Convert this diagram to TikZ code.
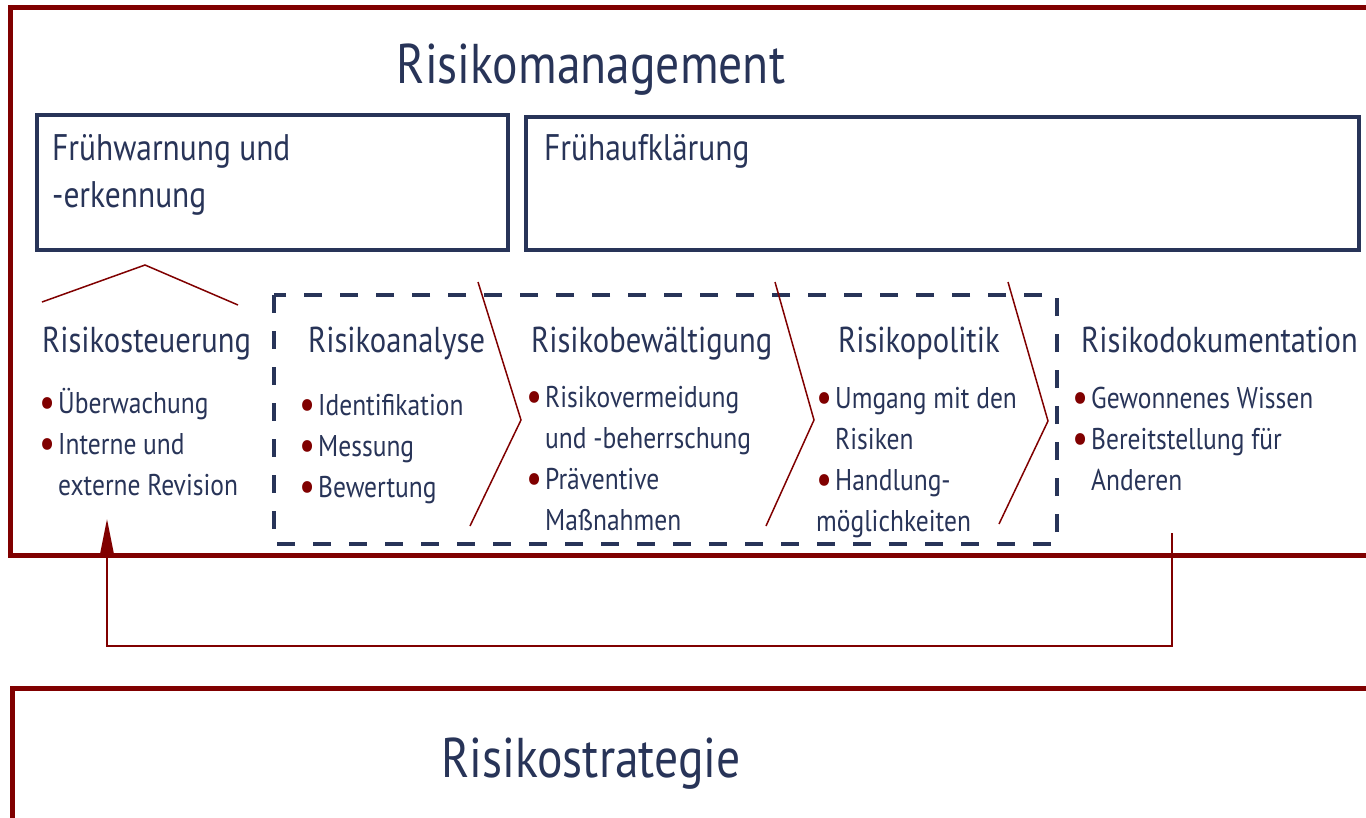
\documentclass[tikz,border=0pt]{standalone}
\usepackage{fontspec}
\setmainfont[FakeStretch=0.85]{PT Sans}
\usepackage{xcolor}
\usetikzlibrary{arrows.meta}
\definecolor{riskred}{RGB}{128,0,0}
\definecolor{risknavy}{RGB}{40,52,88}
\tikzstyle{redframe} = [draw=riskred, line width=5pt]
\tikzstyle{navybox} = [draw=risknavy, line width=3.5pt, rectangle, inner sep=0pt]
\tikzstyle{processbox} = [draw=risknavy, line width=4pt, dash pattern=on 18pt off 18pt]
\tikzstyle{chevron} = [draw=riskred, line width=1.5pt]
\tikzstyle{feedback} = [draw=riskred, line width=2pt]
\tikzstyle{bigtitle} = [text=risknavy, font=\fontsize{56}{60}\selectfont, inner sep=0pt]
\tikzstyle{boxtitle} = [text=risknavy, font=\fontsize{37}{47}\selectfont, inner sep=0pt, align=left]
\tikzstyle{steptitle} = [text=risknavy, font=\fontsize{36}{40}\selectfont, inner sep=0pt]
\tikzstyle{items} = [text=risknavy, font=\fontsize{30}{41}\selectfont, inner sep=0pt, align=left]
\newcommand{\bul}{\makebox[19pt][l]{\textcolor{riskred}{\raisebox{-3pt}{\scalebox{1.4}{\textbullet}}}}}
\newcommand{\ind}{\hspace*{19pt}}

\begin{document}
\begin{tikzpicture}[x=1pt, y=-1pt]
        \useasboundingbox (0,0) rectangle (1366,817);
        \clip (0,0) rectangle (1366,817);
        \fill[white] (0,0) rectangle (1366,817);
        \draw[redframe] (10,7) rectangle (1420,555);
        \draw[redframe] (12,688) rectangle (1420,900);
        \node[bigtitle, anchor=base] (mgmt) at (591,83) {Risikomanagement};
        \node[bigtitle, anchor=base] (strat) at (591,777) {Risikostrategie};

        \node[navybox, anchor=north west, minimum width=471pt, minimum height=135pt] (warnbox) at (35,113) {};
        \node[navybox, anchor=north west, minimum width=833pt, minimum height=133pt] (aufbox) at (524,115) {};
        % base of a two-line node is its last line
        \node[boxtitle, anchor=base west] (warn) at (52,207) {Frühwarnung und\\-erkennung};
        \node[boxtitle, anchor=base west] (auf) at (544,160) {Frühaufklärung};

        \draw[processbox] (274,295) rectangle (1057,544);

        \coordinate (roof-l) at (42,302);
        \coordinate (roof-m) at (145,265);
        \coordinate (roof-r) at (238,305);
        \draw[chevron] (roof-l) -- (roof-m) -- (roof-r);

        \coordinate (c1-top) at (478,282);
        \coordinate (c1-tip) at (521,420);
        \coordinate (c1-bot) at (470,526);
        \coordinate (c2-top) at (775,282);
        \coordinate (c2-tip) at (814,420);
        \coordinate (c2-bot) at (766,526);
        \coordinate (c3-top) at (1008,282);
        \coordinate (c3-tip) at (1048,421);
        \coordinate (c3-bot) at (999,524);
        \draw[chevron] (c1-top) -- (c1-tip) -- (c1-bot);
        \draw[chevron] (c2-top) -- (c2-tip) -- (c2-bot);
        \draw[chevron] (c3-top) -- (c3-tip) -- (c3-bot);

        \node[steptitle, anchor=base west] (steuer) at (42,352) {Risikosteuerung};
        \node[steptitle, anchor=base west] (analyse) at (308,352) {Risikoanalyse};
        \node[steptitle, anchor=base west] (bewaelt) at (531,352) {Risikobewältigung};
        \node[steptitle, anchor=base west] (politik) at (838,352) {Risikopolitik};
        \node[steptitle, anchor=base west] (doku) at (1081,352) {Risikodokumentation};

        \node[items, anchor=base west] (steuer-items) at (39,495) {\bul Überwachung\\ \bul Interne und\\ \ind externe Revision};
        \node[items, anchor=base west] (analyse-items) at (299,497) {\bul Identifikation\\ \bul Messung\\ \bul Bewertung};
        \node[items, anchor=base west] (bewaelt-items) at (526,530) {\bul Risikovermeidung\\ \ind und -beherrschung\\ \bul Präventive\\ \ind Maßnahmen};
        \node[items, anchor=base west] (politik-items) at (816,531) {\bul Umgang mit den\\ \ind Risiken\\ \bul Handlung-\\ möglichkeiten};
        \node[items, anchor=base west] (doku-items) at (1072,490) {\bul Gewonnenes Wissen\\ \bul Bereitstellung für\\ \ind Anderen};

        \coordinate (doc-foot) at (1172,533);
        \coordinate (steuer-foot) at (107,519);
        \coordinate (loop) at (0,646);
        \draw[feedback, -{Triangle[length=34pt,width=13pt]}] (doc-foot) -- (doc-foot |- loop) -| (steuer-foot);
    \end{tikzpicture}
\end{document}
